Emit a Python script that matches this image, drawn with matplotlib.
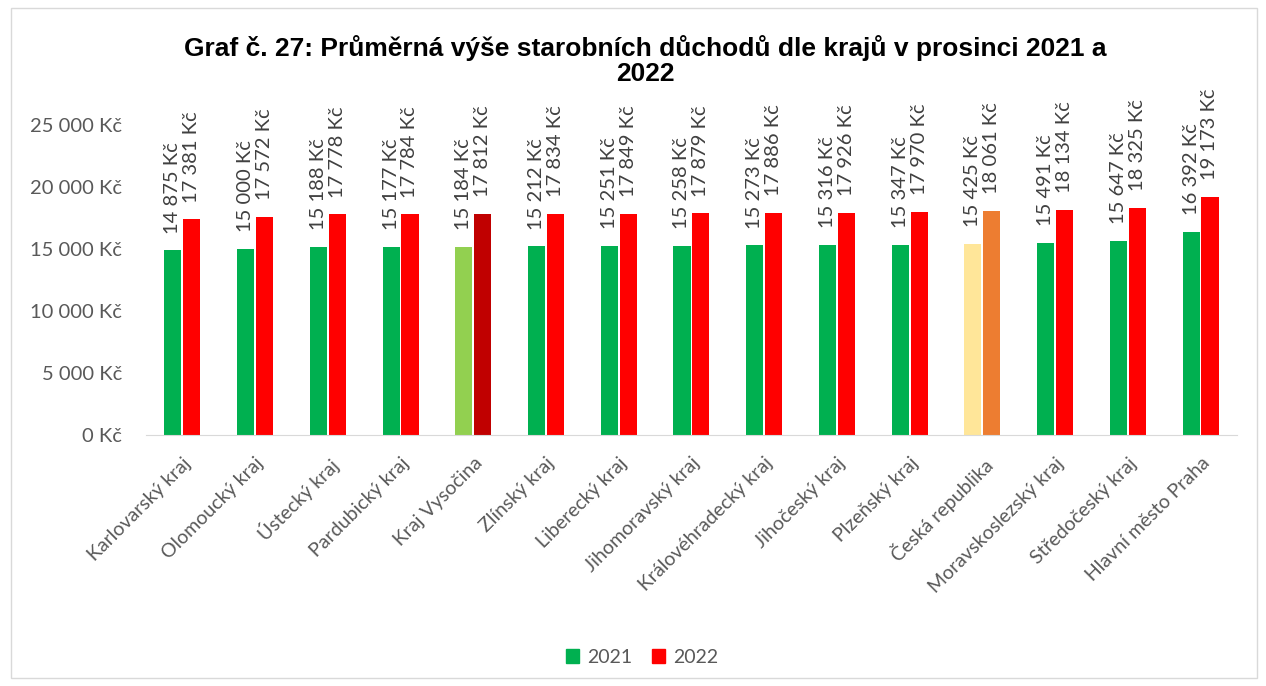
import matplotlib.pyplot as plt
import numpy as np
from matplotlib.patches import Rectangle

categories = ["Karlovarský kraj", "Olomoucký kraj", "Ústecký kraj", "Pardubický kraj",
              "Kraj Vysočina", "Zlínský kraj", "Liberecký kraj", "Jihomoravský kraj",
              "Královéhradecký kraj", "Jihočeský kraj", "Plzeňský kraj", "Česká republika",
              "Moravskoslezský kraj", "Středočeský kraj", "Hlavní město Praha"]
values_2021 = [14875, 15000, 15188, 15177, 15184, 15212, 15251, 15258,
               15273, 15316, 15347, 15425, 15491, 15647, 16392]
values_2022 = [17381, 17572, 17778, 17784, 17812, 17834, 17849, 17879,
               17886, 17926, 17970, 18061, 18134, 18325, 19173]
yticks = [0, 5000, 10000, 15000, 20000, 25000]

def fmt(v):
    return f"{v:,}".replace(",", "\u00a0") + " Kč"

# highlighted categories get their own colours
colors_2021 = ["#00B050"] * len(categories)
colors_2022 = ["#FF0000"] * len(categories)
colors_2021[4], colors_2022[4] = "#92D050", "#C00000"
colors_2021[11], colors_2022[11] = "#FFE699", "#ED7D31"

plt.rcParams['font.family'] = ['Lato', 'DejaVu Sans']

fig = plt.figure(figsize=(12.66, 6.86), dpi=100)
ax = fig.add_axes([0.1153, 0.366, 0.8617, 0.452])

x = np.arange(len(categories))
w = 0.235
ax.bar(x - 0.13, values_2021, w, color=colors_2021, label="2021")
ax.bar(x + 0.13, values_2022, w, color=colors_2022, label="2022")

for i in range(len(categories)):
    ax.annotate(fmt(values_2021[i]), (x[i] - 0.13, values_2021[i]), xytext=(0, 12),
                textcoords='offset points', rotation=90, ha='center', va='bottom',
                fontsize=14.5, color='#404040', annotation_clip=False)
    ax.annotate(fmt(values_2022[i]), (x[i] + 0.13, values_2022[i]), xytext=(0, 12),
                textcoords='offset points', rotation=90, ha='center', va='bottom',
                fontsize=14.5, color='#404040', annotation_clip=False)

ax.set_xlim(-0.5, len(categories) - 0.5)
ax.set_ylim(0, 25000)
ax.set_yticks(yticks)
ax.set_yticklabels([fmt(v) for v in yticks], fontsize=14.5, color='#595959')
ax.set_xticks(x)
ax.set_xticklabels(categories, rotation=45, ha='right', rotation_mode='anchor',
                   fontsize=14, color='#595959')
ax.tick_params(axis='y', length=0, pad=17)
ax.tick_params(axis='x', length=0, pad=14)
for s in ['top', 'right', 'left']:
    ax.spines[s].set_visible(False)
ax.spines['bottom'].set_color('#D9D9D9')

fig.text(0.51, 0.912, "Graf č. 27: Průměrná výše starobních důchodů dle krajů v prosinci 2021 a\n2022",
         ha='center', va='center', fontsize=19, fontweight='bold', family=['Liberation Sans', 'DejaVu Sans'],
         linespacing=1.05)

handles = [Rectangle((0, 0), 1, 1, color="#00B050"), Rectangle((0, 0), 1, 1, color="#FF0000")]
fig.legend(handles, ["2021", "2022"], loc='center', bbox_to_anchor=(0.507, 0.042), ncol=2,
           frameon=False, fontsize=14, handlelength=0.7, handleheight=0.7,
           handletextpad=0.4, columnspacing=1.0, labelcolor='#595959')

fig.patches.append(Rectangle((0.009, 0.012), 0.984, 0.976, transform=fig.transFigure,
                             fill=False, edgecolor='#D9D9D9', linewidth=1))

plt.savefig("out.png")
